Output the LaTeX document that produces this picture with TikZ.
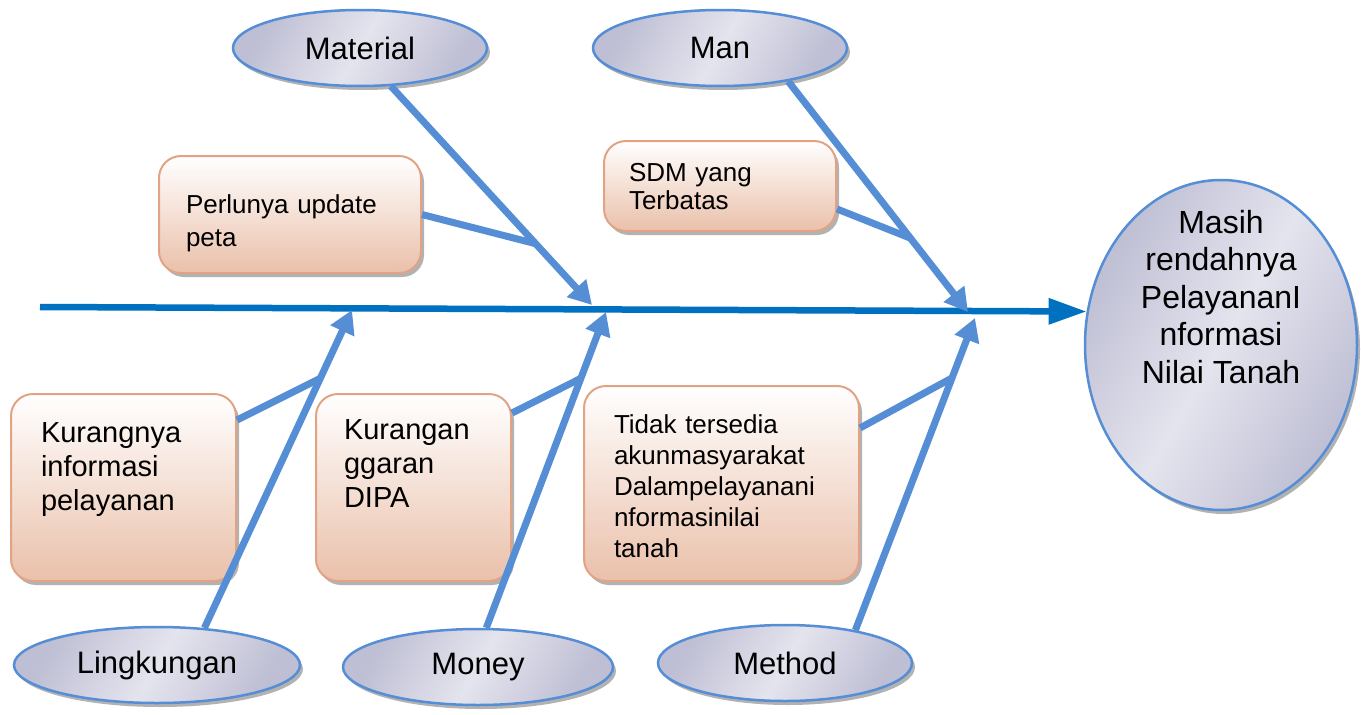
\documentclass[tikz,border=0pt]{standalone}
\usepackage{fontspec}
\setmainfont{Liberation Sans}
\usetikzlibrary{arrows.meta,shapes.geometric,shadows,calc}
\definecolor{boneblue}{RGB}{85,142,213}
\definecolor{spineblue}{RGB}{0,112,192}
\definecolor{elllight}{RGB}{228,228,238}
\definecolor{elldark}{RGB}{190,190,212}
\definecolor{boxpeach}{RGB}{234,192,170}
\definecolor{boxline}{RGB}{226,163,132}
\begin{document}
\begin{tikzpicture}[x=1pt,y=-1pt,
  catell/.style={ellipse,draw=boneblue,line width=2.5pt,inner sep=0pt,
    minimum width=254pt,minimum height=76pt,
    left color=elldark,right color=elldark,middle color=elllight,shading angle=60,
    drop shadow={shadow xshift=3pt,shadow yshift=-4pt,opacity=.5,fill=black!60},
    font=\fontsize{31}{36}\selectfont},
  causebox/.style={draw=boxline,line width=2pt,rounded corners=22pt,anchor=north west,
    top color=white,bottom color=boxpeach,align=left,inner ysep=0pt,
    drop shadow={shadow xshift=3pt,shadow yshift=-4pt,opacity=.5,fill=black!60}},
  bone/.style={draw=boneblue,line width=7pt},
  bonearrow/.style={bone,-{Triangle[length=23pt,width=25pt]}}]
\useasboundingbox (0,0) rectangle (1361,715);
% effect
\node[catell,minimum width=272pt,minimum height=330pt] (eff) at (1221,345) {};
\node[font=\fontsize{32}{37.5}\selectfont,align=center] (efftxt) at (1221,297)
{Masih\\rendahnya\\PelayananI\\nformasi\\Nilai Tanah};
% categories
\foreach \nm/\px/\py/\ew/\txt in {mat/360/48/254/Material,man/720/48/254/Man,
  ling/157/665/286/Lingkungan,mon/478/667/270/Money,meth/785/663/254/Method}
\node[catell,minimum width=\ew pt] (\nm) at (\px,\py) {\txt};
% causes
\node[causebox,font=\fontsize{26}{33}\selectfont,inner xsep=27pt,text width=208pt,
  text height=57pt,text depth=60pt] (perlu) at (158,155) {Perlunya update\\peta};
\node[causebox,font=\fontsize{26}{28}\selectfont,inner xsep=25pt,text width=182pt,
  text height=40pt,text depth=50pt] (sdm) at (603,140) {SDM yang\\Terbatas};
\node[causebox,font=\fontsize{29}{34}\selectfont,inner xsep=30pt,text width=165pt,
  text height=48pt,text depth=139pt] (info) at (10,393) {Kurangnya\\informasi\\pelayanan};
\node[causebox,font=\fontsize{29}{34}\selectfont,inner xsep=28pt,text width=139pt,
  text height=45pt,text depth=142pt] (dipa) at (315,393) {Kurangan\\ggaran\\DIPA};
\node[causebox,font=\fontsize{26}{31}\selectfont,inner xsep=30pt,text width=215pt,
  text height=47pt,text depth=148pt] (akun) at (583,385)
{Tidak tersedia\\akunmasyarakat\\Dalampelayanani\\nformasinilai\\tanah};
% spine
\coordinate (spineL) at (40,307);
\draw[draw=spineblue,line width=6.5pt,-{Triangle[length=38pt,width=25pt]}] (spineL) -- (eff.166);
% bones
\coordinate (tipM) at (592,305);
\coordinate (tipN) at (968,312);
\coordinate (tipL) at (352,310);
\coordinate (tipY) at (606,312);
\coordinate (tipT) at (975,318);
\foreach \from/\to in {mat.-51/tipM,man.-26/tipN,ling.38/tipL,mon.78/tipY,meth.25/tipT}
\draw[bonearrow] (\from) -- (\to);
% sub causes
\coordinate (jM) at ($(mat.-51)!0.72!(tipM)$);
\coordinate (jN) at ($(man.-26)!0.68!(tipN)$);
\coordinate (jL) at ($(ling.38)!0.785!(tipL)$);
\coordinate (jY) at ($(mon.78)!0.79!(tipY)$);
\coordinate (jT) at ($(meth.25)!0.808!(tipT)$);
\draw[bone] (perlu.east) -- (jM);
\draw[bone] ([yshift=-23pt]sdm.east) -- (jN);
\draw[bone] ([yshift=-27pt]info.north east) -- (jL);
\draw[bone] ([yshift=-20pt]dipa.north east) -- (jY);
\draw[bone] ([yshift=-43pt]akun.north east) -- (jT);
\end{tikzpicture}
\end{document}
